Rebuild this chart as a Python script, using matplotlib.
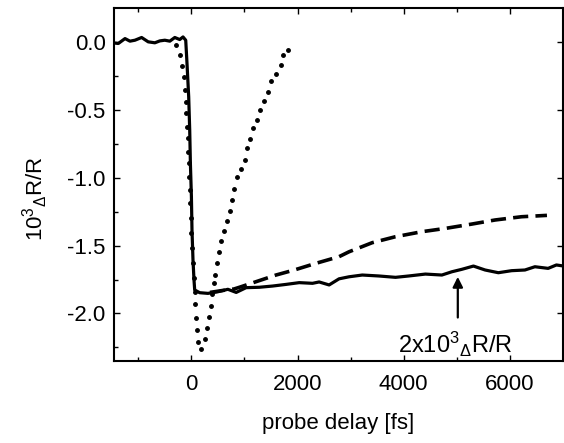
import matplotlib
matplotlib.use("Agg")
import matplotlib.pyplot as plt
from matplotlib.ticker import MultipleLocator

# ========= DATOS =========
# solid trace (probe delay fs, 10^3 dR/R)
solid_x = [-1470, -1377, -1251, -1158, -1064, -938, -814, -689, -595, -501, -407, -313,
           -220, -158, -107, -83, -51, -32, -19, 0, 11, 30, 49, 62, 156, 312, 499, 687,
           844, 1031, 1281, 1531, 1782, 2032, 2282, 2407, 2595, 2782, 2970, 3220, 3533,
           3846, 4096, 4409, 4720, 4908, 5096, 5315, 5535, 5784, 6034, 6285, 6473, 6722,
           6878, 7000]
solid_y = [-0.009, -0.013, 0.023, 0.004, 0.011, 0.031, -0.001, -0.008, 0.006, 0.011, 0.004,
           0.031, 0.016, 0.035, 0.011, -0.16, -0.406, -0.65, -0.896, -1.14, -1.386, -1.607,
           -1.754, -1.827, -1.847, -1.852, -1.84, -1.822, -1.845, -1.81, -1.807, -1.798,
           -1.786, -1.773, -1.778, -1.768, -1.79, -1.745, -1.73, -1.717, -1.724, -1.734,
           -1.724, -1.71, -1.717, -1.693, -1.675, -1.651, -1.68, -1.70, -1.685, -1.68,
           -1.656, -1.668, -1.643, -1.65]

# dashed trace
dash_x = [350, 600, 800, 906, 1219, 1594, 1938, 2345, 2782, 2970, 3407, 3846, 4346, 4784,
          5284, 5722, 6222, 6700]
dash_y = [-1.845, -1.83, -1.82, -1.807, -1.766, -1.717, -1.68, -1.631, -1.582, -1.546,
          -1.479, -1.435, -1.398, -1.374, -1.342, -1.312, -1.288, -1.278]

# dotted trace (individual dots)
dot_x = [-295, -220, -176, -144, -126, -107, -94, -83, -64, -64, -51, -45, -32, -25, -15,
         -5, 10, 25, 45, 60, 75, 81, 105, 124, 188, 250, 293, 325, 362, 395, 424, 443,
         475, 518, 563, 612, 668, 719, 769, 807, 850, 938, 1013, 1043, 1100, 1156, 1244,
         1294, 1362, 1437, 1501, 1600, 1688, 1732, 1813]
dot_y = [-0.026, -0.099, -0.18, -0.263, -0.357, -0.443, -0.528, -0.626, -0.712, -0.81,
         -0.896, -0.994, -1.09, -1.19, -1.30, -1.41, -1.52, -1.63, -1.74, -1.84, -1.932,
         -2.031, -2.121, -2.207, -2.261, -2.188, -2.109, -2.024, -1.943, -1.86, -1.773,
         -1.72, -1.631, -1.55, -1.467, -1.393, -1.318, -1.244, -1.165, -1.082, -0.994,
         -0.935, -0.871, -0.785, -0.715, -0.638, -0.577, -0.504, -0.435, -0.369, -0.288,
         -0.234, -0.175, -0.099, -0.0625]

x_ticks = [0, 2000, 4000, 6000]
y_ticks = [0.0, -0.5, -1.0, -1.5, -2.0]
y_ticklabels = ["0.0", "-0.5", "-1.0", "-1.5", "-2.0"]

# ========= ESTILO =========
plt.rcParams['font.family'] = ['Liberation Sans', 'DejaVu Sans']
plt.rcParams['mathtext.fontset'] = 'custom'
plt.rcParams['mathtext.rm'] = 'Liberation Sans'
plt.rcParams['mathtext.it'] = 'Liberation Sans'
plt.rcParams['mathtext.bf'] = 'Liberation Sans'

fig = plt.figure(figsize=(5.64, 4.43), dpi=100)
ax = fig.add_axes([0.202, 0.185, 0.796, 0.796])

ax.plot(dot_x, dot_y, linestyle='none', marker='o', ms=2.5, color='black', zorder=2)
dl, = ax.plot(dash_x, dash_y, color='black', lw=2.6, zorder=3)
dl.set_dashes((4.2, 2.0))
ax.plot(solid_x, solid_y, color='black', lw=2.3, zorder=4, solid_joinstyle='round')

ax.set_xlim(-1460, 7000)
ax.set_ylim(-2.35, 0.245)

ax.set_xticks(x_ticks)
ax.set_yticks(y_ticks)
ax.set_yticklabels(y_ticklabels)
ax.xaxis.set_minor_locator(MultipleLocator(1000))
ax.yaxis.set_minor_locator(MultipleLocator(0.25))

ax.tick_params(which='both', direction='in', width=1.0, labelsize=16)
ax.tick_params(which='major', length=4)
ax.tick_params(which='minor', length=3)
ax.tick_params(axis='x', which='both', top=True, pad=9)
ax.tick_params(axis='y', which='major', right=True, pad=6)
ax.tick_params(axis='y', which='minor', right=False)

for s in ax.spines.values():
    s.set_linewidth(1.5)

ax.set_xlabel('probe delay [fs]', fontsize=16, labelpad=13)
ax.set_ylabel(r'10$^{3}$$_{\Delta}$R/R', fontsize=16)
ax.yaxis.set_label_coords(-0.142, 0.46)

ax.annotate('', xy=(5020, -1.71), xytext=(5020, -2.05),
            arrowprops=dict(arrowstyle='-|>', color='black', lw=1.6,
                            mutation_scale=15))
ax.text(4970, -2.29, r'2x10$^{3}$$_{\Delta}$R/R', fontsize=17, ha='center', va='baseline')

plt.savefig('out.png', dpi=100)
